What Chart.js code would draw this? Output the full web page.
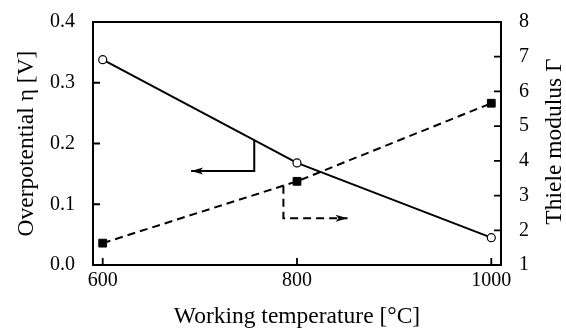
<!DOCTYPE html>
<html>
<head>
<meta charset="utf-8">
<script src="https://cdn.jsdelivr.net/npm/chart.js@4.4.0/dist/chart.umd.min.js"></script>
<style>
body { margin: 0; background: #fff; }
</style>
</head>
<body>
<canvas id="myChart" width="566" height="330"></canvas>
<script>
var temps = [600, 800, 1000];
var overpotential = [0.338, 0.168, 0.045];
var thiele = [1.63, 3.41, 5.66];
var xTicks = [600, 800, 1000];
var leftTicks = [0, 0.1, 0.2, 0.3, 0.4];
var rightTicks = [1, 2, 3, 4, 5, 6, 7, 8];

// the two arrows pointing to each curve's axis
var arrowSolidX = [756, 756, 691];
var arrowSolidY = [0.2054, 0.1548, 0.1548];
var arrowDashX = [786, 786, 852];
var arrowDashY = [3.28, 2.35, 2.35];

function pts(xs, ys) {
  return xs.map(function(x, i) { return {x: x, y: ys[i]}; });
}

var serif = 'Liberation Serif';

var frame = {
  id: 'frame',
  afterDraw: function(chart) {
    var ctx = chart.ctx;
    var a = chart.chartArea;
    var sx = chart.scales.x, sy = chart.scales.y, sy2 = chart.scales.y2;
    ctx.save();
    ctx.strokeStyle = '#000';
    ctx.lineWidth = 2;
    ctx.strokeRect(a.left, a.top, a.right - a.left, a.bottom - a.top);
    ctx.lineWidth = 1.8;
    ctx.beginPath();
    xTicks.forEach(function(v) {
      var p = sx.getPixelForValue(v);
      ctx.moveTo(p, a.bottom);
      ctx.lineTo(p, a.bottom - 7);
    });
    leftTicks.forEach(function(v) {
      var p = sy.getPixelForValue(v);
      ctx.moveTo(a.left, p);
      ctx.lineTo(a.left + 7, p);
    });
    rightTicks.forEach(function(v) {
      var p = sy2.getPixelForValue(v);
      ctx.moveTo(a.right, p);
      ctx.lineTo(a.right - 7, p);
    });
    ctx.stroke();

    // arrow heads
    chart.data.datasets.forEach(function(ds, i) {
      if (!ds.arrow) return;
      var el = chart.getDatasetMeta(i).data;
      var p1 = el[el.length - 2], p2 = el[el.length - 1];
      var ang = Math.atan2(p2.y - p1.y, p2.x - p1.x);
      ctx.save();
      ctx.translate(p2.x, p2.y);
      ctx.rotate(ang);
      ctx.fillStyle = '#000';
      ctx.beginPath();
      ctx.moveTo(0, 0);
      ctx.lineTo(-12, -3.5);
      ctx.lineTo(-9, 0);
      ctx.lineTo(-12, 3.5);
      ctx.closePath();
      ctx.fill();
      ctx.restore();
    });

    // right title reads bottom to top like the left one
    ctx.translate(555, (a.top + a.bottom) / 2 - 2);
    ctx.rotate(-Math.PI / 2);
    ctx.font = '23.5px "' + serif + '"';
    ctx.fillStyle = '#000';
    ctx.textAlign = 'center';
    ctx.textBaseline = 'middle';
    ctx.fillText('Thiele modulus \u0393', 0, 0);
    ctx.restore();
  }
};

var ctx = document.getElementById('myChart').getContext('2d');
var myChart = new Chart(ctx, {
  type: 'line',
  data: {
    datasets: [{
      data: pts(temps, overpotential),
      yAxisID: 'y',
      borderColor: '#000',
      borderWidth: 2,
      pointStyle: 'circle',
      pointRadius: 4,
      pointBorderWidth: 1.2,
      pointBackgroundColor: '#fff',
      pointBorderColor: '#000',
      clip: false
    }, {
      data: pts(temps, thiele),
      yAxisID: 'y2',
      borderColor: '#000',
      borderWidth: 2,
      borderDash: [8, 5],
      pointStyle: 'rect',
      pointRadius: 5.5,
      pointBorderWidth: 1,
      pointBackgroundColor: '#000',
      pointBorderColor: '#000',
      clip: false
    }, {
      arrow: true,
      data: pts(arrowSolidX, arrowSolidY),
      yAxisID: 'y',
      borderColor: '#000',
      borderWidth: 2,
      pointRadius: 0
    }, {
      arrow: true,
      data: pts(arrowDashX, arrowDashY),
      yAxisID: 'y2',
      borderColor: '#000',
      borderWidth: 2,
      borderDash: [8, 5],
      pointRadius: 0
    }]
  },
  options: {
    responsive: false,
    animation: false,
    layout: { padding: { top: 21, left: 0, right: 0, bottom: 0 } },
    plugins: { legend: { display: false }, tooltip: { enabled: false } },
    scales: {
      x: {
        type: 'linear',
        min: 590,
        max: 1010,
        grid: { display: false },
        border: { display: false },
        afterBuildTicks: function(s) { s.ticks = xTicks.map(function(v) { return {value: v}; }); },
        afterFit: function(s) { s.height = 65; },
        ticks: {
          color: '#000', padding: -4, font: { family: serif, size: 20 },
          callback: function(v) { return String(v); }
        },
        title: {
          display: true,
          text: 'Working temperature [\u00b0C]',
          color: '#000',
          padding: { top: 0, bottom: 1 },
          font: { family: serif, size: 23.5, lineHeight: 1 }
        }
      },
      y: {
        position: 'left',
        min: 0,
        max: 0.4,
        grid: { display: false },
        border: { display: false },
        afterBuildTicks: function(s) { s.ticks = leftTicks.map(function(v) { return {value: v}; }); },
        afterFit: function(s) { s.width = 93; },
        ticks: {
          color: '#000', padding: 10, font: { family: serif, size: 20 },
          callback: function(v) { return v.toFixed(1); }
        },
        title: {
          display: true,
          text: 'Overpotential \u03b7 [V]',
          color: '#000',
          padding: { top: 15, bottom: 0 },
          font: { family: serif, size: 23.5, lineHeight: 1 }
        }
      },
      y2: {
        position: 'right',
        min: 1,
        max: 8,
        grid: { display: false },
        border: { display: false },
        afterBuildTicks: function(s) { s.ticks = rightTicks.map(function(v) { return {value: v}; }); },
        afterFit: function(s) { s.width = 65; },
        ticks: { color: '#000', padding: 10, font: { family: serif, size: 20 } }
      }
    }
  },
  plugins: [frame]
});
</script>
</body>
</html>
